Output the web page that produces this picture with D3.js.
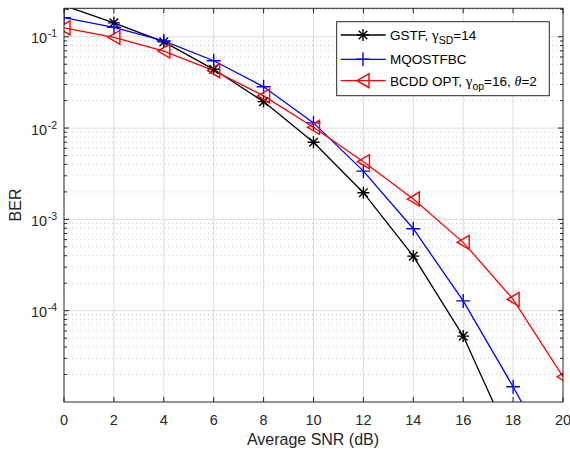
<!DOCTYPE html>
<html><head><meta charset="utf-8">
<script src="https://cdnjs.cloudflare.com/ajax/libs/d3/7.8.5/d3.min.js"></script>
<style>
body{margin:0;background:#fff;}
text{font-family:"Liberation Sans",Arial,sans-serif;}
</style></head>
<body><svg id="c" width="570" height="452"></svg>
<script>
const snr = [0, 2, 4, 6, 8, 10, 12, 14, 16, 18, 20];
const gstf = [0.22, 0.142, 0.088, 0.044, 0.0195, 0.0070, 0.00196, 0.000396, 0.0000527, 0.0000033, 0.0000002];
const mqostfbc = [0.162, 0.127, 0.090, 0.0546, 0.0283, 0.0114, 0.00338, 0.00079, 0.000128, 0.0000147, 0.0000015];
const bcdd = [0.125, 0.0985, 0.0697, 0.0425, 0.0225, 0.0102, 0.00428, 0.00167, 0.00056, 0.000133, 0.0000189];
const xTicks = [0, 2, 4, 6, 8, 10, 12, 14, 16, 18, 20];
const yTickExps = [-1, -2, -3, -4];

const svg = d3.select("#c");
const L = 64, R = 563, T = 8.3, B = 402;
const axisCol = "#262626";
const x = d3.scaleLinear().domain([0, 20]).range([L, R]);
const y = d3.scaleLog().domain([1.0e-5, 0.205]).range([B, T]);

svg.append("rect").attr("x", L).attr("y", T).attr("width", R - L).attr("height", B - T).attr("fill", "#fff");

const minor = [];
for (let e = -5; e <= -1; e++) for (let m = 2; m <= 9; m++) { const v = m * Math.pow(10, e); if (v < 0.205) minor.push(v); }
const g = svg.append("g");
g.selectAll("line.mg").data(minor).enter().append("line")
  .attr("x1", L).attr("x2", R).attr("y1", d => y(d)).attr("y2", d => y(d))
  .attr("stroke", "#bdbdbd").attr("stroke-width", 0.8).attr("stroke-dasharray", "1,3");
g.selectAll("line.Mg").data(yTickExps).enter().append("line")
  .attr("x1", L).attr("x2", R).attr("y1", d => y(Math.pow(10, d))).attr("y2", d => y(Math.pow(10, d)))
  .attr("stroke", "#dcdcdc").attr("stroke-width", 1);
g.selectAll("line.xg").data(xTicks.slice(1, -1)).enter().append("line")
  .attr("x1", d => x(d)).attr("x2", d => x(d)).attr("y1", T).attr("y2", B)
  .attr("stroke", "#dcdcdc").attr("stroke-width", 1);

svg.append("clipPath").attr("id", "clip").append("rect").attr("x", L).attr("y", T).attr("width", R - L).attr("height", B - T);

const series = [
  {vals: gstf, color: "#000000", marker: "star"},
  {vals: mqostfbc, color: "#0000ff", marker: "plus"},
  {vals: bcdd, color: "#ff0000", marker: "tri"}
];
const line = d3.line().x((d, i) => x(snr[i])).y(d => y(d));

function drawMarker(sel, type, color) {
  if (type === "star") {
    const r = 6;
    const p = `M${-r},0H${r}M0,${-r}V${r}M${-r*0.72},${-r*0.72}L${r*0.72},${r*0.72}M${-r*0.72},${r*0.72}L${r*0.72},${-r*0.72}`;
    sel.append("path").attr("d", p).attr("stroke", color).attr("stroke-width", 1.4).attr("fill", "none");
  } else if (type === "plus") {
    const r = 7;
    sel.append("path").attr("d", `M${-r},0H${r}M0,${-r}V${r}`).attr("stroke", color).attr("stroke-width", 1.4).attr("fill", "none");
  } else {
    const w = 6, h = 7;
    sel.append("path").attr("d", `M${-w},0L${w},${-h}L${w},${h}Z`).attr("stroke", color).attr("stroke-width", 1.4).attr("fill", "none");
  }
}

const plot = svg.append("g").attr("clip-path", "url(#clip)");
series.forEach(s => {
  plot.append("path").datum(s.vals).attr("d", line).attr("fill", "none").attr("stroke", s.color).attr("stroke-width", 1.3);
});
series.forEach(s => {
  s.vals.forEach((v, i) => {
    const px = x(snr[i]), py = y(v);
    if (py < T - 10 || py > B + 10) return;
    const m = plot.append("g").attr("transform", `translate(${px},${py})`);
    drawMarker(m, s.marker, s.color);
  });
});

svg.append("rect").attr("x", L).attr("y", T).attr("width", R - L).attr("height", B - T)
  .attr("fill", "none").attr("stroke", axisCol).attr("stroke-width", 1);

const tk = svg.append("g").attr("stroke", axisCol).attr("stroke-width", 1);
xTicks.forEach(t => {
  tk.append("line").attr("x1", x(t)).attr("x2", x(t)).attr("y1", B).attr("y2", B - 5);
  tk.append("line").attr("x1", x(t)).attr("x2", x(t)).attr("y1", T).attr("y2", T + 5);
});
yTickExps.forEach(e => {
  const py = y(Math.pow(10, e));
  tk.append("line").attr("x1", L).attr("x2", L + 5).attr("y1", py).attr("y2", py);
  tk.append("line").attr("x1", R).attr("x2", R - 5).attr("y1", py).attr("y2", py);
});
minor.forEach(v => {
  const py = y(v);
  tk.append("line").attr("x1", L).attr("x2", L + 3).attr("y1", py).attr("y2", py);
  tk.append("line").attr("x1", R).attr("x2", R - 3).attr("y1", py).attr("y2", py);
});

svg.append("g").selectAll("text").data(xTicks).enter().append("text")
  .attr("x", d => x(d)).attr("y", 425).attr("text-anchor", "middle")
  .attr("font-size", 14.5).attr("fill", axisCol).text(d => d);
yTickExps.forEach(e => {
  const py = y(Math.pow(10, e));
  const t = svg.append("text").attr("x", 57).attr("y", py + 6.5).attr("text-anchor", "end")
    .attr("font-size", 14.5).attr("fill", axisCol);
  t.append("tspan").text("10");
  t.append("tspan").attr("dy", -6).attr("font-size", 10.5).attr("dx", 0.5).text("-" + (-e));
});

svg.append("text").attr("x", 313).attr("y", 445).attr("text-anchor", "middle")
  .attr("font-size", 16).attr("fill", axisCol).text("Average SNR (dB)");
svg.append("text").attr("transform", "translate(21,205) rotate(-90)").attr("text-anchor", "middle")
  .attr("font-size", 16).attr("fill", axisCol).text("BER");

const lg = svg.append("g");
lg.append("rect").attr("x", 336.7).attr("y", 21.7).attr("width", 212.6).attr("height", 74)
  .attr("fill", "#fff").attr("stroke", axisCol).attr("stroke-width", 1);
const rows = [35, 59.3, 80.7];
series.forEach((s, i) => {
  lg.append("line").attr("x1", 340.7).attr("x2", 385.7).attr("y1", rows[i]).attr("y2", rows[i])
    .attr("stroke", s.color).attr("stroke-width", 1.3);
  const m = lg.append("g").attr("transform", `translate(363,${rows[i]})`);
  drawMarker(m, s.marker, s.color);
});
const serif = "'Liberation Serif','Times New Roman',serif";
let t0 = lg.append("text").attr("x", 390).attr("y", rows[0] + 5).attr("font-size", 13.5).attr("fill", "#000");
t0.append("tspan").text("GSTF, ");
t0.append("tspan").attr("font-family", serif).attr("font-size", 15).text("\u03b3");
t0.append("tspan").attr("dy", 4).attr("font-size", 10.5).text("SD");
t0.append("tspan").attr("dy", -4).text("=14");
lg.append("text").attr("x", 390).attr("y", rows[1] + 5).attr("font-size", 13.5).attr("fill", "#000").text("MQOSTFBC");
let t2 = lg.append("text").attr("x", 390).attr("y", rows[2] + 5).attr("font-size", 13.5).attr("fill", "#000");
t2.append("tspan").text("BCDD OPT, ");
t2.append("tspan").attr("font-family", serif).attr("font-size", 15).text("\u03b3");
t2.append("tspan").attr("dy", 4).attr("font-size", 10.5).text("op");
t2.append("tspan").attr("dy", -4).text("=16, ");
t2.append("tspan").attr("font-family", serif).attr("font-style", "italic").attr("font-size", 14).text("\u03b8");
t2.append("tspan").text("=2");
</script></body></html>
